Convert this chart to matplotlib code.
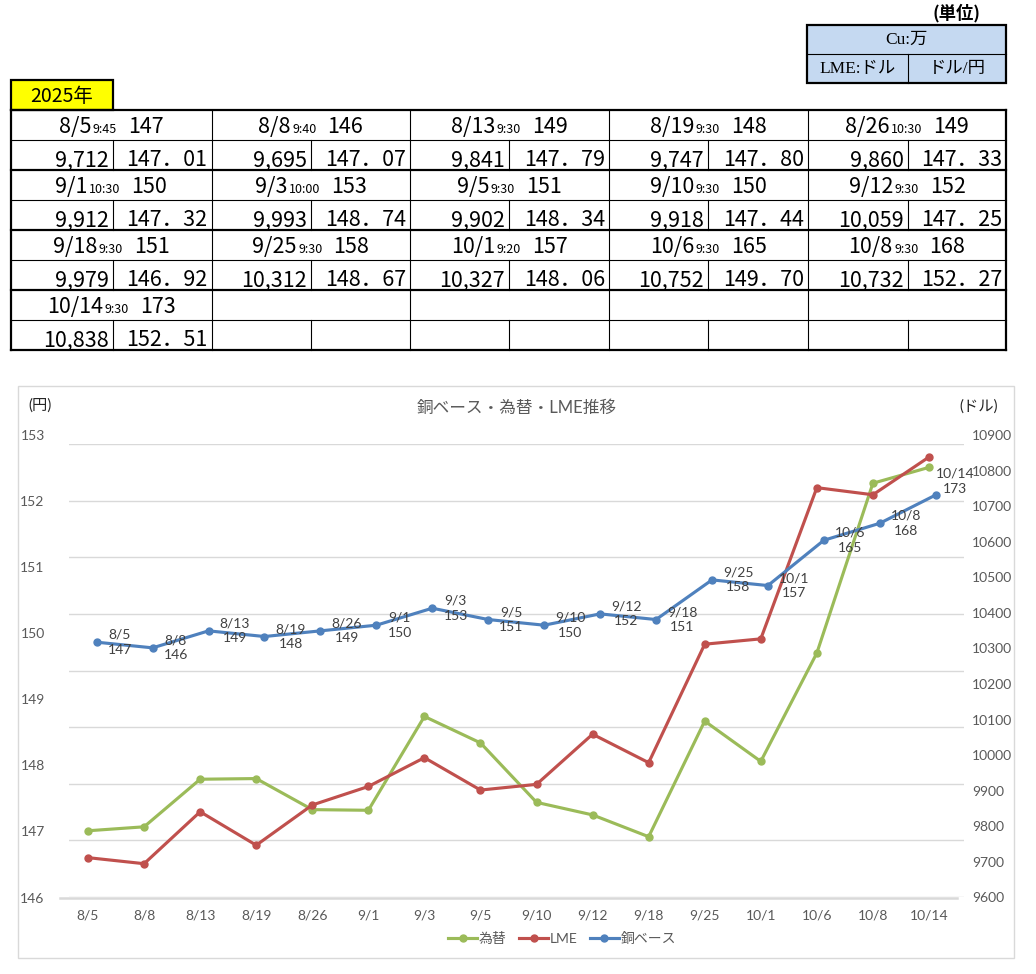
import matplotlib
matplotlib.use('Agg')
import matplotlib.pyplot as plt
from matplotlib.offsetbox import TextArea, HPacker, AnnotationBbox
from matplotlib.patches import Rectangle

# data
dates = ['8/5', '8/8', '8/13', '8/19', '8/26', '9/1', '9/3', '9/5', '9/10',
         '9/12', '9/18', '9/25', '10/1', '10/6', '10/8', '10/14']
times = ['9:45', '9:40', '9:30', '9:30', '10:30', '10:30', '10:00', '9:30',
         '9:30', '9:30', '9:30', '9:30', '9:20', '9:30', '9:30', '9:30']
copper = [147, 146, 149, 148, 149, 150, 153, 151, 150, 152, 151, 158, 157, 165, 168, 173]
lme = [9712, 9695, 9841, 9747, 9860, 9912, 9993, 9902, 9918, 10059, 9979,
       10312, 10327, 10752, 10732, 10838]
fx = [147.01, 147.07, 147.79, 147.80, 147.33, 147.32, 148.74, 148.34, 147.44,
      147.25, 146.92, 148.67, 148.06, 149.70, 152.27, 152.51]
fx_ticks = list(range(146, 154))
lme_ticks = list(range(9600, 10901, 100))

W, H = 1036, 974
GREEN, RED, BLUE = '#9bbb59', '#c0504d', '#4f81bd'
GRAY = '#595959'
CF = ['Lato', 'Noto Sans CJK JP']
TF = ['Noto Sans CJK JP', 'DejaVu Sans']

fig = plt.figure(figsize=(W / 100, H / 100), dpi=100)


def box(x0, y0, x1, y1):
    return [x0 / W, 1 - y1 / H, (x1 - x0) / W, (y1 - y0) / H]


# ---- full-figure layer in pixel coords: table + chart frame ----
axT = fig.add_axes([0, 0, 1, 1])
axT.set_xlim(0, W)
axT.set_ylim(H, 0)
axT.axis('off')

axT.add_patch(Rectangle((18.3, 385.7), 1014 - 18.3, 958 - 385.7, fc='none', ec='#d9d9d9', lw=1))

# unit box
axT.text(957, 13, '(単位)', ha='center', va='center', size=12.5, family=TF, weight='bold')
axT.add_patch(Rectangle((807, 24.7), 199, 57.8, fc='#c5d9f1', ec='black', lw=1.6))
axT.plot([807, 1006], [54, 54], color='black', lw=0.8)
axT.plot([908, 908], [54, 82.5], color='black', lw=0.8)
SF = ['Liberation Serif', 'Noto Sans CJK JP']
axT.text(906.5, 40, 'Cu:万', ha='center', va='center', size=12.5, family=SF)
axT.text(857.5, 69, 'LME:ドル', ha='center', va='center', size=12.5, family=SF)
axT.text(957, 69, 'ドル/円', ha='center', va='center', size=12.5, family=SF)

# year tag
axT.add_patch(Rectangle((11, 80), 102, 30, fc='#ffff00', ec='black', lw=1.6))
axT.text(62, 96, '2025年', ha='center', va='center', size=14, family=TF)

# table grid
bx = [11, 211.5, 410, 609, 808, 1006]
splits = [113, 311, 509, 708, 908]
rows = [110 + 30 * i for i in range(9)]
for i, y in enumerate(rows):
    axT.plot([11, 1006], [y, y], color='black', lw=1.6 if i % 2 == 0 else 0.8)
axT.plot([11, 11], [110, 350], color='black', lw=1.6)
axT.plot([1006, 1006], [110, 350], color='black', lw=1.6)
for xb in bx[1:-1]:
    axT.plot([xb, xb], [110, 350], color='black', lw=0.8)
for g in range(4):
    for xs in splits:
        axT.plot([xs, xs], [140 + 60 * g, 170 + 60 * g], color='black', lw=0.8)

for k in range(len(dates)):
    g, b = divmod(k, 5)
    cx = (bx[b] + bx[b + 1]) / 2
    top = 110 + 60 * g
    big = dict(size=15.5, family=TF, color='black')
    small = dict(size=9, family=TF, color='black')
    head = HPacker(children=[
        HPacker(children=[TextArea(dates[k], textprops=big),
                          TextArea(times[k], textprops=small)],
                align='baseline', pad=0, sep=1),
        TextArea(str(copper[k]), textprops=big)],
        align='baseline', pad=0, sep=8)
    axT.add_artist(AnnotationBbox(head, (cx, top + 17), xycoords='data',
                                  frameon=False, pad=0, box_alignment=(0.5, 0.5)))
    axT.text(splits[b] - 4, top + 56.5, f'{lme[k]:,}', ha='right', va='baseline',
             size=15.5, family=TF)
    axT.text(bx[b + 1] - 4, top + 56.5, f'{fx[k]:.2f}'.replace('.', '．'),
             ha='right', va='baseline', size=15.5, family=TF)

# ---- chart ----
x = list(range(len(dates)))

# gridlines sit on the copper-base scale
axG = fig.add_axes(box(68.7, 444, 963.7, 897))
axG.set_xlim(-0.5, 15.5)
axG.set_ylim(102, 182)
axG.set_yticks(range(102, 183, 10))
axG.yaxis.grid(True, color='#d9d9d9', lw=1)
axG.tick_params(left=False, labelleft=False, bottom=False, labelbottom=False)
for s in axG.spines.values():
    s.set_visible(False)
axG.patch.set_visible(False)
axG.set_zorder(1)

axL = fig.add_axes(box(60, 435, 957, 897.5))
axL.set_zorder(2)
axL.patch.set_visible(False)
axL.set_xlim(-0.5, 15.5)
axL.set_ylim(146, 153)
axL.set_yticks(fx_ticks)
axL.set_xticks(x)
axL.set_xticklabels(dates)
for s in ['top', 'left', 'right']:
    axL.spines[s].set_visible(False)
axL.spines['bottom'].set_color('#d9d9d9')
axL.spines['bottom'].set_linewidth(1.8)
axL.tick_params(length=0, labelsize=10, labelcolor=GRAY)
axL.tick_params(axis='y', pad=11)
axL.tick_params(axis='x', pad=9)
for t in axL.get_xticklabels() + axL.get_yticklabels():
    t.set_family(CF)
l1, = axL.plot(x, fx, color=GREEN, lw=2.25, marker='o', ms=5, label='為替')

axR = axL.twinx()
axR.set_ylim(9600, 10900)
axR.set_yticks(lme_ticks)
for s in axR.spines.values():
    s.set_visible(False)
axR.tick_params(length=0, labelsize=10, labelcolor=GRAY, pad=11)
for t in axR.get_yticklabels():
    t.set_family(CF)
l2, = axR.plot(x, lme, color=RED, lw=2.25, marker='o', ms=5, label='LME')

axB = fig.add_axes(box(68.7, 444, 963.7, 897))
axB.set_zorder(4)
axB.set_xlim(-0.5, 15.5)
axB.set_ylim(102, 182)
axB.axis('off')
l3, = axB.plot(x, copper, color=BLUE, lw=2.25, marker='o', ms=5, label='銅ベース')
for k in x:
    off = (0, 10) if k == len(x) - 1 else (8, 0)
    axB.annotate(f'{dates[k]}\n{copper[k]}', (k, copper[k]), xytext=off,
                 textcoords='offset points', ha='left', va='center',
                 multialignment='center', size=10, family=CF, color='#404040',
                 linespacing=1.3, annotation_clip=False)

fig.text(517 / W, 1 - 408 / H, '銅ベース・為替・LME推移', ha='center', va='center',
         size=12, color=GRAY, family=CF)
fig.text(40 / W, 1 - 406 / H, '(円)', ha='center', va='center', size=11,
         color='#262626', family=CF)
fig.text(979 / W, 1 - 407 / H, '(ドル)', ha='center', va='center', size=11,
         color='#262626', family=CF)

leg = fig.legend([l1, l2, l3], ['為替', 'LME', '銅ベース'], loc='center',
                 bbox_to_anchor=(562 / W, 1 - 938 / H), ncol=3, frameon=False,
                 handlelength=2.1, handletextpad=0.1, columnspacing=0.9,
                 prop=dict(family=CF, size=10))
for t in leg.get_texts():
    t.set_color(GRAY)

fig.savefig('out.png', dpi=100)
